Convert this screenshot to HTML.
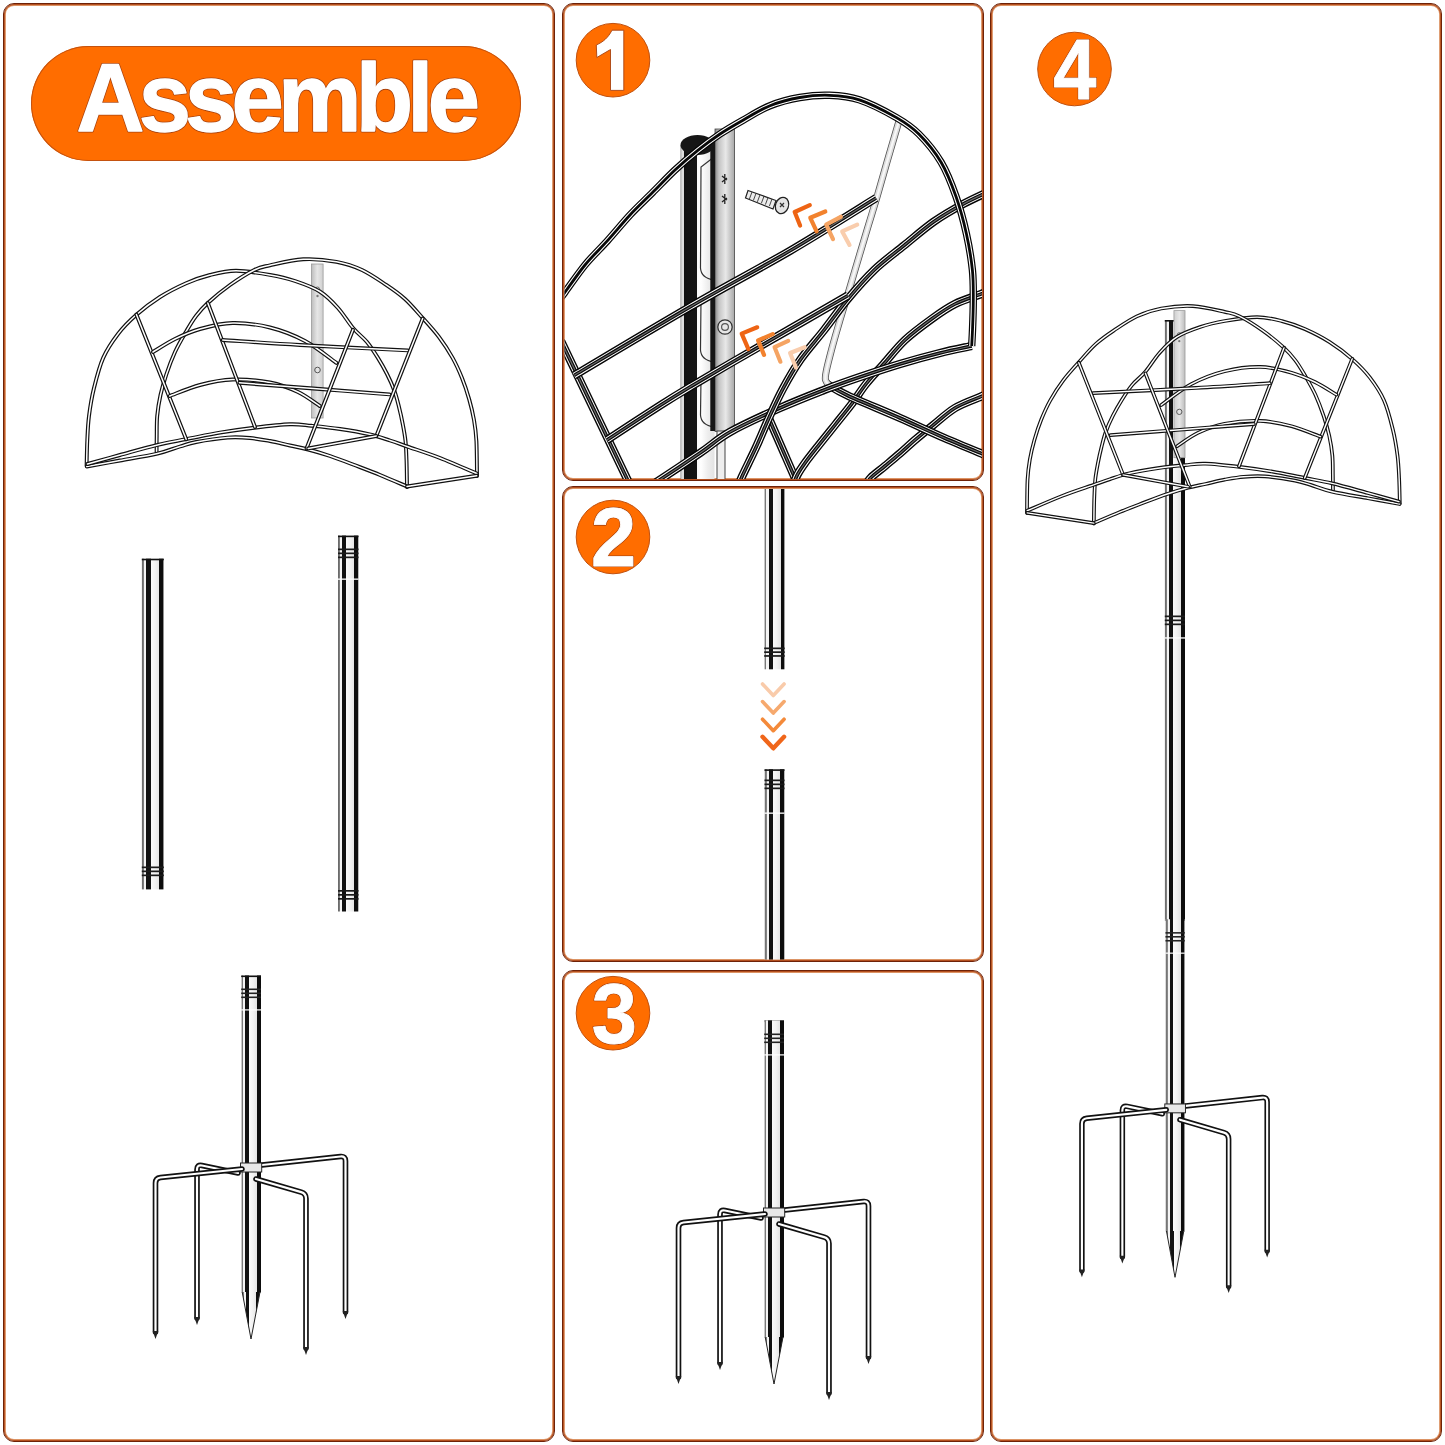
<!DOCTYPE html>
<html><head><meta charset="utf-8"><title>Assemble</title>
<style>
html,body{margin:0;padding:0;background:#fff;}
body{width:1445px;height:1445px;position:relative;overflow:hidden;font-family:"Liberation Sans",sans-serif;}
.panel{position:absolute;box-sizing:border-box;border:1.4px solid #6e2208;border-radius:11px;background:#fff;box-shadow:inset 0 0 0 0.9px #b5501f, inset 0 0 0 1.9px #dc9465;}
.pill{position:absolute;left:30.5px;top:45.6px;width:490px;height:115.7px;border-radius:58px;background:#FF6D00;box-shadow:0 0 0 1px #c4520f inset;}
svg{position:absolute;left:0;top:0;}
</style></head><body>

<div class="panel" style="left:2.9px;top:2.9px;width:552.6px;height:1439.1px"></div>
<div class="panel" style="left:562px;top:2.9px;width:422.4px;height:478.6px"></div>
<div class="panel" style="left:562px;top:486px;width:422.4px;height:475.6px"></div>
<div class="panel" style="left:562px;top:969.9px;width:422.4px;height:472.1px"></div>
<div class="panel" style="left:989.8px;top:2.9px;width:452.2px;height:1439.1px"></div>
<div class="pill"></div>
<svg width="1445" height="1445" viewBox="0 0 1445 1445">
<defs>
<linearGradient id="pole" x1="0" x2="1" y1="0" y2="0">
<stop offset="0" stop-color="#bbb"/><stop offset="0.02" stop-color="#bbb"/>
<stop offset="0.02" stop-color="#6a6a6a"/><stop offset="0.11" stop-color="#8a8a8a"/>
<stop offset="0.11" stop-color="#f4f4f4"/><stop offset="0.21" stop-color="#f4f4f4"/>
<stop offset="0.21" stop-color="#111"/><stop offset="0.41" stop-color="#111"/>
<stop offset="0.41" stop-color="#fafafa"/><stop offset="0.6" stop-color="#f2f2f2"/><stop offset="0.8" stop-color="#e4e4e4"/>
<stop offset="0.8" stop-color="#0d0d0d"/><stop offset="0.98" stop-color="#0d0d0d"/><stop offset="0.98" stop-color="#777"/><stop offset="1" stop-color="#777"/>
</linearGradient>
<linearGradient id="plate" x1="0" x2="1" y1="0" y2="0">
<stop offset="0" stop-color="#bdbdbd"/><stop offset="0.5" stop-color="#e6e6e6"/><stop offset="1" stop-color="#cfcfcf"/>
</linearGradient>
<linearGradient id="plate2" x1="0" x2="1" y1="0" y2="0">
<stop offset="0" stop-color="#8a8a8a"/><stop offset="0.2" stop-color="#c4c4c4"/><stop offset="0.55" stop-color="#e8e8e8"/><stop offset="1" stop-color="#a8a8a8"/>
</linearGradient>
<linearGradient id="pole1" x1="0" x2="1" y1="0" y2="0">
<stop offset="0" stop-color="#888"/><stop offset="0.04" stop-color="#ddd"/><stop offset="0.09" stop-color="#ddd"/>
<stop offset="0.09" stop-color="#111"/><stop offset="0.5" stop-color="#151515"/>
<stop offset="0.5" stop-color="#fafafa"/><stop offset="0.6" stop-color="#fff"/><stop offset="0.8" stop-color="#eee"/><stop offset="1" stop-color="#e2e2e2"/>
</linearGradient>
</defs>
<g id="hangerA"><rect x="311.5" y="264" width="11.6" height="154" fill="url(#plate)" stroke="#9a9a9a" stroke-width="0.8"/><circle cx="317.5" cy="289" r="2" fill="none" stroke="#666" stroke-width="0.9"/><circle cx="317.5" cy="296" r="1.2" fill="#777"/><circle cx="317.5" cy="370" r="2.8" fill="none" stroke="#555" stroke-width="1"/><path d="M86.6,465.8C86.7,461.5 86.9,448.3 87.3,440C87.7,431.7 87.9,424.7 89,416C90.1,407.3 91.6,397.7 94,388C96.4,378.3 99.2,366.9 103.2,357.9C107.2,348.9 112.5,341.2 118,334C123.5,326.8 129.4,321 136.4,314.8C143.4,308.6 151.7,302.3 160,297C168.3,291.7 177.9,286.9 186.2,283.2C194.5,279.5 201.7,277.1 210,275C218.3,272.9 226,270.8 236,270.8C246,270.8 260.2,273.2 270,274.9C279.8,276.6 286.7,278.2 295,281C303.3,283.8 312.6,287 319.8,291.5C327,296 332.5,301.9 338,308C343.5,314.1 348.2,322.3 353,328C357.8,333.7 362.9,337 367,342C371.1,347 374.6,352.6 377.9,357.9C381.2,363.2 384.2,368.5 387,374C389.8,379.5 392.5,385.6 394.5,391.1C396.5,396.6 397.6,401.5 399,407C400.4,412.5 401.7,418.6 402.8,424.3C403.9,430 404.9,435.1 405.5,441C406.1,446.9 406.2,452.3 406.5,460C406.8,467.7 406.9,482.5 407,487" fill="none" stroke="#111" stroke-width="3.9" stroke-linecap="round" stroke-linejoin="round"/><path d="M86.6,465.8C86.7,461.5 86.9,448.3 87.3,440C87.7,431.7 87.9,424.7 89,416C90.1,407.3 91.6,397.7 94,388C96.4,378.3 99.2,366.9 103.2,357.9C107.2,348.9 112.5,341.2 118,334C123.5,326.8 129.4,321 136.4,314.8C143.4,308.6 151.7,302.3 160,297C168.3,291.7 177.9,286.9 186.2,283.2C194.5,279.5 201.7,277.1 210,275C218.3,272.9 226,270.8 236,270.8C246,270.8 260.2,273.2 270,274.9C279.8,276.6 286.7,278.2 295,281C303.3,283.8 312.6,287 319.8,291.5C327,296 332.5,301.9 338,308C343.5,314.1 348.2,322.3 353,328C357.8,333.7 362.9,337 367,342C371.1,347 374.6,352.6 377.9,357.9C381.2,363.2 384.2,368.5 387,374C389.8,379.5 392.5,385.6 394.5,391.1C396.5,396.6 397.6,401.5 399,407C400.4,412.5 401.7,418.6 402.8,424.3C403.9,430 404.9,435.1 405.5,441C406.1,446.9 406.2,452.3 406.5,460C406.8,467.7 406.9,482.5 407,487" fill="none" stroke="#fff" stroke-width="1.5" stroke-linecap="round" stroke-linejoin="round"/><path d="M156.6,452C156.6,449.3 156.6,442 156.7,436C156.8,430 156.6,422.8 157.2,416C157.8,409.2 159,401.9 160.5,395C162,388.1 163.9,381.7 166.3,374.5C168.7,367.3 171.7,359.2 175,352C178.3,344.8 182.7,337.4 186.2,331.4C189.7,325.4 192.4,320.7 196,316C199.6,311.3 202.1,308.2 207.8,303C213.5,297.8 222.2,290.5 230,285C237.8,279.5 247.6,273.3 254.3,270C261,266.7 261.9,267.1 270,265.3C278.1,263.5 292.1,259.9 303.2,259.3C314.3,258.7 326.6,260 336.4,261.8C346.2,263.6 353.7,266.1 362,270C370.3,273.9 379,280.1 386.2,284.9C393.4,289.7 398.9,293.5 405,299C411.1,304.5 417,311.7 422.7,318C428.4,324.3 434,330.4 439,337C444,343.6 448.8,351.1 452.6,357.9C456.4,364.7 459.2,371.1 462,378C464.8,384.9 467.2,392.4 469.2,399.4C471.2,406.4 472.8,413.1 474,420C475.2,426.9 475.9,431.7 476.4,441C476.9,450.3 476.9,470.2 477,476" fill="none" stroke="#111" stroke-width="3.9" stroke-linecap="round" stroke-linejoin="round"/><path d="M156.6,452C156.6,449.3 156.6,442 156.7,436C156.8,430 156.6,422.8 157.2,416C157.8,409.2 159,401.9 160.5,395C162,388.1 163.9,381.7 166.3,374.5C168.7,367.3 171.7,359.2 175,352C178.3,344.8 182.7,337.4 186.2,331.4C189.7,325.4 192.4,320.7 196,316C199.6,311.3 202.1,308.2 207.8,303C213.5,297.8 222.2,290.5 230,285C237.8,279.5 247.6,273.3 254.3,270C261,266.7 261.9,267.1 270,265.3C278.1,263.5 292.1,259.9 303.2,259.3C314.3,258.7 326.6,260 336.4,261.8C346.2,263.6 353.7,266.1 362,270C370.3,273.9 379,280.1 386.2,284.9C393.4,289.7 398.9,293.5 405,299C411.1,304.5 417,311.7 422.7,318C428.4,324.3 434,330.4 439,337C444,343.6 448.8,351.1 452.6,357.9C456.4,364.7 459.2,371.1 462,378C464.8,384.9 467.2,392.4 469.2,399.4C471.2,406.4 472.8,413.1 474,420C475.2,426.9 475.9,431.7 476.4,441C476.9,450.3 476.9,470.2 477,476" fill="none" stroke="#fff" stroke-width="1.5" stroke-linecap="round" stroke-linejoin="round"/><path d="M86.8,466.5C92.3,465.5 108.2,462.6 120,460.5C131.8,458.4 147.5,455.9 157.5,453.6C167.5,451.3 173.5,448.4 180,446.5C186.5,444.6 188.4,443.5 196.3,442C204.2,440.5 218.8,438.3 227.7,437.6C236.6,436.9 242.9,437.4 250,438C257.1,438.6 263.3,439.8 270,441C276.7,442.2 283.6,444.1 290,445.5C296.4,446.9 301.5,447.8 308.2,449.5C314.9,451.2 322.5,453.5 330,456C337.5,458.5 344.7,461.3 353,464.5C361.3,467.7 371,471.3 380,475C389,478.7 402.5,484.6 407,486.5" fill="none" stroke="#111" stroke-width="3.9" stroke-linecap="round" stroke-linejoin="round"/><path d="M86.8,466.5C92.3,465.5 108.2,462.6 120,460.5C131.8,458.4 147.5,455.9 157.5,453.6C167.5,451.3 173.5,448.4 180,446.5C186.5,444.6 188.4,443.5 196.3,442C204.2,440.5 218.8,438.3 227.7,437.6C236.6,436.9 242.9,437.4 250,438C257.1,438.6 263.3,439.8 270,441C276.7,442.2 283.6,444.1 290,445.5C296.4,446.9 301.5,447.8 308.2,449.5C314.9,451.2 322.5,453.5 330,456C337.5,458.5 344.7,461.3 353,464.5C361.3,467.7 371,471.3 380,475C389,478.7 402.5,484.6 407,486.5" fill="none" stroke="#fff" stroke-width="1.5" stroke-linecap="round" stroke-linejoin="round"/><path d="M87.5,464C92.9,462.5 108.3,458.2 120,455C131.7,451.8 146.4,447.5 157.5,444.9C168.6,442.2 176.2,441.2 186.6,439.1C197,437.1 208.7,434.5 220,432.6C231.3,430.7 242.6,429.1 254.3,427.7C266,426.3 280.5,424.6 290,424.3C299.5,424 303.2,425 311.5,425.8C319.8,426.6 330.3,427.6 340,429C349.7,430.4 361.3,432.4 369.6,434.3C377.9,436.2 383.6,438.4 390,440.5C396.4,442.6 399.5,443.8 407.8,446.7C416.1,449.6 428.5,453.5 440,458C451.5,462.5 470.6,470.9 476.7,473.5" fill="none" stroke="#111" stroke-width="3.9" stroke-linecap="round" stroke-linejoin="round"/><path d="M87.5,464C92.9,462.5 108.3,458.2 120,455C131.7,451.8 146.4,447.5 157.5,444.9C168.6,442.2 176.2,441.2 186.6,439.1C197,437.1 208.7,434.5 220,432.6C231.3,430.7 242.6,429.1 254.3,427.7C266,426.3 280.5,424.6 290,424.3C299.5,424 303.2,425 311.5,425.8C319.8,426.6 330.3,427.6 340,429C349.7,430.4 361.3,432.4 369.6,434.3C377.9,436.2 383.6,438.4 390,440.5C396.4,442.6 399.5,443.8 407.8,446.7C416.1,449.6 428.5,453.5 440,458C451.5,462.5 470.6,470.9 476.7,473.5" fill="none" stroke="#fff" stroke-width="1.5" stroke-linecap="round" stroke-linejoin="round"/><path d="M407,486.5L476.7,475.8" fill="none" stroke="#111" stroke-width="3.9" stroke-linecap="round" stroke-linejoin="round"/><path d="M407,486.5L476.7,475.8" fill="none" stroke="#fff" stroke-width="1.5" stroke-linecap="round" stroke-linejoin="round"/><path d="M136.4,314.5L186.2,439.3" fill="none" stroke="#111" stroke-width="3.9" stroke-linecap="round" stroke-linejoin="round"/><path d="M136.4,314.5L186.2,439.3" fill="none" stroke="#fff" stroke-width="1.5" stroke-linecap="round" stroke-linejoin="round"/><path d="M153,352C156.7,349.8 167.2,342.8 175,339C182.8,335.2 190.4,331.7 200,329C209.6,326.3 221,323.2 232.7,323C244.4,322.8 257.9,324.5 270,327.5C282.1,330.5 293.9,335.1 305,341C316.1,346.9 331.2,359.2 336.4,362.9" fill="none" stroke="#111" stroke-width="3.9" stroke-linecap="round" stroke-linejoin="round"/><path d="M153,352C156.7,349.8 167.2,342.8 175,339C182.8,335.2 190.4,331.7 200,329C209.6,326.3 221,323.2 232.7,323C244.4,322.8 257.9,324.5 270,327.5C282.1,330.5 293.9,335.1 305,341C316.1,346.9 331.2,359.2 336.4,362.9" fill="none" stroke="#fff" stroke-width="1.5" stroke-linecap="round" stroke-linejoin="round"/><path d="M169.6,396C174.7,394.2 189.5,387.8 200,385C210.5,382.2 221,379.9 232.7,379.5C244.4,379.1 259.1,380.4 270,382.5C280.9,384.6 289.7,388.1 298,392C306.3,395.9 316.2,403.7 319.8,406" fill="none" stroke="#111" stroke-width="3.9" stroke-linecap="round" stroke-linejoin="round"/><path d="M169.6,396C174.7,394.2 189.5,387.8 200,385C210.5,382.2 221,379.9 232.7,379.5C244.4,379.1 259.1,380.4 270,382.5C280.9,384.6 289.7,388.1 298,392C306.3,395.9 316.2,403.7 319.8,406" fill="none" stroke="#fff" stroke-width="1.5" stroke-linecap="round" stroke-linejoin="round"/><path d="M207.8,303L255,427" fill="none" stroke="#111" stroke-width="3.9" stroke-linecap="round" stroke-linejoin="round"/><path d="M207.8,303L255,427" fill="none" stroke="#fff" stroke-width="1.5" stroke-linecap="round" stroke-linejoin="round"/><path d="M222.7,340C235.6,340.8 269.1,343.3 300,345C330.9,346.7 389.8,349.5 407.8,350.4" fill="none" stroke="#111" stroke-width="3.9" stroke-linecap="round" stroke-linejoin="round"/><path d="M222.7,340C235.6,340.8 269.1,343.3 300,345C330.9,346.7 389.8,349.5 407.8,350.4" fill="none" stroke="#fff" stroke-width="1.5" stroke-linecap="round" stroke-linejoin="round"/><path d="M239.4,382.8C252.8,383.8 295,387.1 320,389C345,390.9 377.9,393.5 389.5,394.4" fill="none" stroke="#111" stroke-width="3.9" stroke-linecap="round" stroke-linejoin="round"/><path d="M239.4,382.8C252.8,383.8 295,387.1 320,389C345,390.9 377.9,393.5 389.5,394.4" fill="none" stroke="#fff" stroke-width="1.5" stroke-linecap="round" stroke-linejoin="round"/><path d="M353,329.7L306.5,448.5" fill="none" stroke="#111" stroke-width="3.9" stroke-linecap="round" stroke-linejoin="round"/><path d="M353,329.7L306.5,448.5" fill="none" stroke="#fff" stroke-width="1.5" stroke-linecap="round" stroke-linejoin="round"/><path d="M422.7,318.5L376.3,436" fill="none" stroke="#111" stroke-width="3.9" stroke-linecap="round" stroke-linejoin="round"/><path d="M422.7,318.5L376.3,436" fill="none" stroke="#fff" stroke-width="1.5" stroke-linecap="round" stroke-linejoin="round"/><path d="M308.2,448.4L376.3,436" fill="none" stroke="#111" stroke-width="3.9" stroke-linecap="round" stroke-linejoin="round"/><path d="M308.2,448.4L376.3,436" fill="none" stroke="#fff" stroke-width="1.5" stroke-linecap="round" stroke-linejoin="round"/></g>
<rect x="141.8" y="558.7" width="22" height="330.7" fill="url(#pole)"/><rect x="141.8" y="558.7" width="22" height="1.6" fill="#111"/><rect x="141.8" y="866.5" width="22" height="1.7" fill="#1a1a1a"/><rect x="141.8" y="870.5" width="22" height="1.7" fill="#1a1a1a"/><rect x="141.8" y="874.5" width="22" height="1.7" fill="#1a1a1a"/>
<rect x="338" y="535.6" width="20.5" height="375.9" fill="url(#pole)"/><rect x="338" y="535.6" width="20.5" height="1.6" fill="#111"/><rect x="338" y="548.5" width="20.5" height="1.7" fill="#1a1a1a"/><rect x="338" y="552.5" width="20.5" height="1.7" fill="#1a1a1a"/><rect x="338" y="556.5" width="20.5" height="1.7" fill="#1a1a1a"/><rect x="338" y="890" width="20.5" height="1.7" fill="#1a1a1a"/><rect x="338" y="894" width="20.5" height="1.7" fill="#1a1a1a"/><rect x="338" y="898" width="20.5" height="1.7" fill="#1a1a1a"/><rect x="338" y="578.5" width="20.5" height="1.3" fill="#fff"/>
<g id="stakeA"><path d="M238,1173L201.9,1165.5Q197,1164.5 197,1169.5L197,1318" fill="none" stroke="#111" stroke-width="5.6" stroke-linecap="round" stroke-linejoin="round"/><path d="M238,1173L201.9,1165.5Q197,1164.5 197,1169.5L197,1318" fill="none" stroke="#fff" stroke-width="2.2" stroke-linecap="round" stroke-linejoin="round"/><path d="M262,1165L340.5,1156.5Q345.5,1156 345.5,1161L345.5,1312" fill="none" stroke="#111" stroke-width="5.6" stroke-linecap="round" stroke-linejoin="round"/><path d="M262,1165L340.5,1156.5Q345.5,1156 345.5,1161L345.5,1312" fill="none" stroke="#fff" stroke-width="2.2" stroke-linecap="round" stroke-linejoin="round"/><rect x="241.2" y="975.5" width="19.8" height="317" fill="url(#pole)"/><polygon points="242.2,1292 260,1292 251,1339" fill="url(#pole)"/><path d="M242.2,1292L251,1339L260,1292" fill="none" stroke="#222" stroke-width="1"/><rect x="241.2" y="988.5" width="19.8" height="1.6" fill="#222"/><rect x="241.2" y="992.5" width="19.8" height="1.6" fill="#222"/><rect x="241.2" y="996.5" width="19.8" height="1.6" fill="#222"/><rect x="241.2" y="1009.3" width="19.8" height="1.2" fill="#fff"/><rect x="240.5" y="1163" width="21.2" height="9" fill="#e8e8e8" stroke="#222" stroke-width="1"/><path d="M242,1169L160.5,1177.5Q155.5,1178 155.5,1183L155.5,1332" fill="none" stroke="#111" stroke-width="5.6" stroke-linecap="round" stroke-linejoin="round"/><path d="M242,1169L160.5,1177.5Q155.5,1178 155.5,1183L155.5,1332" fill="none" stroke="#fff" stroke-width="2.2" stroke-linecap="round" stroke-linejoin="round"/><path d="M256,1179L301.2,1192.1Q306,1193.5 306,1198.5L306,1348" fill="none" stroke="#111" stroke-width="5.6" stroke-linecap="round" stroke-linejoin="round"/><path d="M256,1179L301.2,1192.1Q306,1193.5 306,1198.5L306,1348" fill="none" stroke="#fff" stroke-width="2.2" stroke-linecap="round" stroke-linejoin="round"/><polygon points="194.2,1317 199.8,1317 197,1325" fill="#222"/><polygon points="342.7,1311 348.3,1311 345.5,1319" fill="#222"/><polygon points="152.7,1331 158.3,1331 155.5,1339" fill="#222"/><polygon points="303.2,1347 308.8,1347 306,1355" fill="#222"/></g>
<rect x="241.2" y="975.5" width="19.8" height="1.6" fill="#111"/>
<rect x="764.2" y="1020.5" width="19.8" height="1.6" fill="#111"/>
<use href="#stakeA" transform="translate(523,45)"/>
<rect x="1164.8" y="320" width="20.2" height="601" fill="url(#pole)"/><rect x="1164.8" y="320" width="20.2" height="1.6" fill="#111"/><rect x="1164.8" y="615.5" width="20.2" height="1.7" fill="#1a1a1a"/><rect x="1164.8" y="619.5" width="20.2" height="1.7" fill="#1a1a1a"/><rect x="1164.8" y="623.5" width="20.2" height="1.7" fill="#1a1a1a"/><rect x="1164.8" y="637.3" width="20.2" height="1.3" fill="#fff"/>
<use href="#stakeA" transform="matrix(0.975,0,0,0.985,930.3,-41.6)"/>
<use href="#hangerA" transform="translate(1482.5,58.5) scale(-0.955,0.955)"/>
<rect x="764.2" y="489" width="20.5" height="180.3" fill="url(#pole)"/><rect x="764.2" y="647.5" width="20.5" height="1.7" fill="#1a1a1a"/><rect x="764.2" y="651.3" width="20.5" height="1.7" fill="#1a1a1a"/><rect x="764.2" y="655.1" width="20.5" height="1.7" fill="#1a1a1a"/>
<rect x="764.5" y="769.3" width="20" height="190.2" fill="url(#pole)"/><rect x="764.5" y="769.3" width="20" height="1.6" fill="#111"/><rect x="764.5" y="779.5" width="20" height="1.7" fill="#1a1a1a"/><rect x="764.5" y="783.5" width="20" height="1.7" fill="#1a1a1a"/><rect x="764.5" y="787.5" width="20" height="1.7" fill="#1a1a1a"/><rect x="764.5" y="812.5" width="20" height="1.3" fill="#fff"/>
<path d="M762.5,684L773.3,695.5L784.1,684" fill="none" stroke="#F9CBAA" stroke-width="3.6" stroke-linecap="round" stroke-linejoin="round"/>
<path d="M762.5,701.6L773.3,713.1L784.1,701.6" fill="none" stroke="#F6A96E" stroke-width="3.6" stroke-linecap="round" stroke-linejoin="round"/>
<path d="M762.5,719.2L773.3,730.7L784.1,719.2" fill="none" stroke="#F48A3A" stroke-width="3.6" stroke-linecap="round" stroke-linejoin="round"/>
<path d="M762.5,736.8L773.3,748.3L784.1,736.8" fill="none" stroke="#F0661A" stroke-width="4.4" stroke-linecap="round" stroke-linejoin="round"/>
<clipPath id="c1"><rect x="564.5" y="5.5" width="417.5" height="473.5" rx="9"/></clipPath>
<g clip-path="url(#c1)">
<rect x="680.5" y="145" width="34" height="340" fill="url(#pole1)"/>
<ellipse cx="697.5" cy="145" rx="17" ry="10" fill="#161616"/>
<path d="M714,157 L701,167 L700.5,268 Q701,278 714,280" fill="none" stroke="#333" stroke-width="1.2"/>
<path d="M714,290 L701,300 L700.5,350 Q701,360 714,362" fill="none" stroke="#333" stroke-width="1.2"/>
<path d="M714,369 L701,379 L700.5,415 Q701,425 714,427" fill="none" stroke="#333" stroke-width="1.2"/>
<rect x="715" y="129" width="19.5" height="302.5" fill="url(#plate2)" stroke="#444" stroke-width="0.8"/>
<rect x="710.3" y="140" width="4.7" height="291" fill="#161616"/>
<rect x="717" y="431" width="8" height="60" fill="#eee" stroke="#444" stroke-width="1"/>
<path d="M722,176 l5,4 M722,182 l5,-4 M724.8,174 v10 M722,196 l5,4 M722,202 l5,-4 M724.8,194 v10" stroke="#222" stroke-width="1.3"/>
<circle cx="725" cy="327" r="7.2" fill="#e6e6e6" stroke="#333" stroke-width="1.3"/><circle cx="725" cy="327" r="3.4" fill="none" stroke="#555" stroke-width="1.2"/>
<path d="M561,341L630,485" fill="none" stroke="#050505" stroke-width="8.4" stroke-linecap="butt" stroke-linejoin="round"/><path d="M561,341L630,485" fill="none" stroke="#fff" stroke-width="5.6" stroke-linecap="butt" stroke-linejoin="round"/><path d="M561,341L630,485" fill="none" stroke="#080808" stroke-width="3.6" stroke-linecap="butt" stroke-linejoin="round"/><path d="M561,341L630,485" fill="none" stroke="#6a6a6a" stroke-width="1.2" stroke-linecap="butt" stroke-linejoin="round"/>
<path d="M768.8,418.2L798,485" fill="none" stroke="#050505" stroke-width="8.4" stroke-linecap="butt" stroke-linejoin="round"/><path d="M768.8,418.2L798,485" fill="none" stroke="#fff" stroke-width="5.6" stroke-linecap="butt" stroke-linejoin="round"/><path d="M768.8,418.2L798,485" fill="none" stroke="#080808" stroke-width="3.6" stroke-linecap="butt" stroke-linejoin="round"/><path d="M768.8,418.2L798,485" fill="none" stroke="#6a6a6a" stroke-width="1.2" stroke-linecap="butt" stroke-linejoin="round"/>
<path d="M990,393C988.6,393.6 987.2,393.9 981.4,396.4C975.6,398.9 963.1,403.1 955,408C946.9,412.9 939.3,420.3 932.6,425.6C925.9,430.9 920.4,435.4 915,440C909.6,444.6 905.1,449 900.1,453.3C895.1,457.6 889.9,461.9 885,466C880.1,470.1 874,474.5 870.8,477.7C867.6,480.9 866.8,483.8 866,485" fill="none" stroke="#050505" stroke-width="8.4" stroke-linecap="butt" stroke-linejoin="round"/><path d="M990,393C988.6,393.6 987.2,393.9 981.4,396.4C975.6,398.9 963.1,403.1 955,408C946.9,412.9 939.3,420.3 932.6,425.6C925.9,430.9 920.4,435.4 915,440C909.6,444.6 905.1,449 900.1,453.3C895.1,457.6 889.9,461.9 885,466C880.1,470.1 874,474.5 870.8,477.7C867.6,480.9 866.8,483.8 866,485" fill="none" stroke="#fff" stroke-width="5.6" stroke-linecap="butt" stroke-linejoin="round"/><path d="M990,393C988.6,393.6 987.2,393.9 981.4,396.4C975.6,398.9 963.1,403.1 955,408C946.9,412.9 939.3,420.3 932.6,425.6C925.9,430.9 920.4,435.4 915,440C909.6,444.6 905.1,449 900.1,453.3C895.1,457.6 889.9,461.9 885,466C880.1,470.1 874,474.5 870.8,477.7C867.6,480.9 866.8,483.8 866,485" fill="none" stroke="#080808" stroke-width="3.6" stroke-linecap="butt" stroke-linejoin="round"/><path d="M990,393C988.6,393.6 987.2,393.9 981.4,396.4C975.6,398.9 963.1,403.1 955,408C946.9,412.9 939.3,420.3 932.6,425.6C925.9,430.9 920.4,435.4 915,440C909.6,444.6 905.1,449 900.1,453.3C895.1,457.6 889.9,461.9 885,466C880.1,470.1 874,474.5 870.8,477.7C867.6,480.9 866.8,483.8 866,485" fill="none" stroke="#6a6a6a" stroke-width="1.2" stroke-linecap="butt" stroke-linejoin="round"/>
<path d="M990,290C988.6,290.6 987.2,291.6 981.4,293.9C975.6,296.2 963.1,299.9 955,304C946.9,308.1 940.9,312.3 932.6,318.3C924.3,324.3 913.1,332.4 905,340C896.9,347.6 890.3,356.5 883.8,363.8C877.3,371.1 871.4,377.2 866,384C860.6,390.8 856.5,397.7 851.3,404.5C846.1,411.3 840.4,418.2 835,425C829.6,431.8 823.8,438.9 818.8,445.2C813.8,451.5 808.5,458.1 805,463C801.5,467.9 799.6,470.7 797.6,474.4C795.6,478.1 793.8,483.2 793,485" fill="none" stroke="#050505" stroke-width="8.4" stroke-linecap="butt" stroke-linejoin="round"/><path d="M990,290C988.6,290.6 987.2,291.6 981.4,293.9C975.6,296.2 963.1,299.9 955,304C946.9,308.1 940.9,312.3 932.6,318.3C924.3,324.3 913.1,332.4 905,340C896.9,347.6 890.3,356.5 883.8,363.8C877.3,371.1 871.4,377.2 866,384C860.6,390.8 856.5,397.7 851.3,404.5C846.1,411.3 840.4,418.2 835,425C829.6,431.8 823.8,438.9 818.8,445.2C813.8,451.5 808.5,458.1 805,463C801.5,467.9 799.6,470.7 797.6,474.4C795.6,478.1 793.8,483.2 793,485" fill="none" stroke="#fff" stroke-width="5.6" stroke-linecap="butt" stroke-linejoin="round"/><path d="M990,290C988.6,290.6 987.2,291.6 981.4,293.9C975.6,296.2 963.1,299.9 955,304C946.9,308.1 940.9,312.3 932.6,318.3C924.3,324.3 913.1,332.4 905,340C896.9,347.6 890.3,356.5 883.8,363.8C877.3,371.1 871.4,377.2 866,384C860.6,390.8 856.5,397.7 851.3,404.5C846.1,411.3 840.4,418.2 835,425C829.6,431.8 823.8,438.9 818.8,445.2C813.8,451.5 808.5,458.1 805,463C801.5,467.9 799.6,470.7 797.6,474.4C795.6,478.1 793.8,483.2 793,485" fill="none" stroke="#080808" stroke-width="3.6" stroke-linecap="butt" stroke-linejoin="round"/><path d="M990,290C988.6,290.6 987.2,291.6 981.4,293.9C975.6,296.2 963.1,299.9 955,304C946.9,308.1 940.9,312.3 932.6,318.3C924.3,324.3 913.1,332.4 905,340C896.9,347.6 890.3,356.5 883.8,363.8C877.3,371.1 871.4,377.2 866,384C860.6,390.8 856.5,397.7 851.3,404.5C846.1,411.3 840.4,418.2 835,425C829.6,431.8 823.8,438.9 818.8,445.2C813.8,451.5 808.5,458.1 805,463C801.5,467.9 799.6,470.7 797.6,474.4C795.6,478.1 793.8,483.2 793,485" fill="none" stroke="#6a6a6a" stroke-width="1.2" stroke-linecap="butt" stroke-linejoin="round"/>
<path d="M826,383.5C829.6,385.5 835.3,389.8 847.6,395.5C859.9,401.2 883.9,410.9 900,418C916.1,425.1 929.4,431.5 944.4,438C959.4,444.5 982.4,453.8 990,457" fill="none" stroke="#050505" stroke-width="8.4" stroke-linecap="butt" stroke-linejoin="round"/><path d="M826,383.5C829.6,385.5 835.3,389.8 847.6,395.5C859.9,401.2 883.9,410.9 900,418C916.1,425.1 929.4,431.5 944.4,438C959.4,444.5 982.4,453.8 990,457" fill="none" stroke="#fff" stroke-width="5.6" stroke-linecap="butt" stroke-linejoin="round"/><path d="M826,383.5C829.6,385.5 835.3,389.8 847.6,395.5C859.9,401.2 883.9,410.9 900,418C916.1,425.1 929.4,431.5 944.4,438C959.4,444.5 982.4,453.8 990,457" fill="none" stroke="#080808" stroke-width="3.6" stroke-linecap="butt" stroke-linejoin="round"/><path d="M826,383.5C829.6,385.5 835.3,389.8 847.6,395.5C859.9,401.2 883.9,410.9 900,418C916.1,425.1 929.4,431.5 944.4,438C959.4,444.5 982.4,453.8 990,457" fill="none" stroke="#6a6a6a" stroke-width="1.2" stroke-linecap="butt" stroke-linejoin="round"/>
<path d="M899,121C897,127.8 890.7,149.3 887,162C883.3,174.7 880.1,186.5 877,197C873.9,207.5 871.4,215.3 868.5,225C865.6,234.7 862.6,244.7 859.5,255C856.4,265.3 853.2,276.2 850,287C846.8,297.8 843,309.8 840,320C837,330.2 834.2,339.7 832,348C829.8,356.3 827.6,364.7 826.5,370C825.4,375.3 824.9,377.3 825.5,380C826.1,382.7 829.2,385 830,386" fill="none" stroke="#555" stroke-width="7" stroke-linecap="butt" stroke-linejoin="round"/><path d="M899,121C897,127.8 890.7,149.3 887,162C883.3,174.7 880.1,186.5 877,197C873.9,207.5 871.4,215.3 868.5,225C865.6,234.7 862.6,244.7 859.5,255C856.4,265.3 853.2,276.2 850,287C846.8,297.8 843,309.8 840,320C837,330.2 834.2,339.7 832,348C829.8,356.3 827.6,364.7 826.5,370C825.4,375.3 824.9,377.3 825.5,380C826.1,382.7 829.2,385 830,386" fill="none" stroke="#dcdcdc" stroke-width="5.4" stroke-linecap="butt" stroke-linejoin="round"/><path d="M899,121C897,127.8 890.7,149.3 887,162C883.3,174.7 880.1,186.5 877,197C873.9,207.5 871.4,215.3 868.5,225C865.6,234.7 862.6,244.7 859.5,255C856.4,265.3 853.2,276.2 850,287C846.8,297.8 843,309.8 840,320C837,330.2 834.2,339.7 832,348C829.8,356.3 827.6,364.7 826.5,370C825.4,375.3 824.9,377.3 825.5,380C826.1,382.7 829.2,385 830,386" fill="none" stroke="#f7f7f7" stroke-width="2.2" stroke-linecap="butt" stroke-linejoin="round"/>
<path d="M652,485C660,479.7 687,461.8 700,453C713,444.2 716.7,439.5 730,432C743.3,424.5 764.3,415 780,408C795.7,401 810.7,395.2 824,390C837.3,384.8 847.3,381.3 860,377C872.7,372.7 886.7,368 900,364C913.3,360 928,356 940,353C952,350 966.4,347.2 971.7,346" fill="none" stroke="#050505" stroke-width="8.4" stroke-linecap="butt" stroke-linejoin="round"/><path d="M652,485C660,479.7 687,461.8 700,453C713,444.2 716.7,439.5 730,432C743.3,424.5 764.3,415 780,408C795.7,401 810.7,395.2 824,390C837.3,384.8 847.3,381.3 860,377C872.7,372.7 886.7,368 900,364C913.3,360 928,356 940,353C952,350 966.4,347.2 971.7,346" fill="none" stroke="#fff" stroke-width="5.6" stroke-linecap="butt" stroke-linejoin="round"/><path d="M652,485C660,479.7 687,461.8 700,453C713,444.2 716.7,439.5 730,432C743.3,424.5 764.3,415 780,408C795.7,401 810.7,395.2 824,390C837.3,384.8 847.3,381.3 860,377C872.7,372.7 886.7,368 900,364C913.3,360 928,356 940,353C952,350 966.4,347.2 971.7,346" fill="none" stroke="#080808" stroke-width="3.6" stroke-linecap="butt" stroke-linejoin="round"/><path d="M652,485C660,479.7 687,461.8 700,453C713,444.2 716.7,439.5 730,432C743.3,424.5 764.3,415 780,408C795.7,401 810.7,395.2 824,390C837.3,384.8 847.3,381.3 860,377C872.7,372.7 886.7,368 900,364C913.3,360 928,356 940,353C952,350 966.4,347.2 971.7,346" fill="none" stroke="#6a6a6a" stroke-width="1.2" stroke-linecap="butt" stroke-linejoin="round"/>
<path d="M990,191C985.6,193.2 972.8,198.8 963.4,203.9C954,209 943.6,214.9 933.7,221.8C923.8,228.8 913.8,237.6 903.9,245.6C894,253.6 883.5,261.1 874.2,270C864.9,278.9 856.4,288.8 848,298.8C839.6,308.8 832,319.9 824.1,330C816.2,340.1 807.5,349.6 800.6,359.4C793.7,369.2 788.2,379 782.9,388.8C777.6,398.6 773.3,408.4 768.8,418.2C764.3,428 760.4,437.8 755.9,447.6C751.4,457.4 744.6,470.8 741.8,477C739,483.2 739.5,483.7 739,485" fill="none" stroke="#050505" stroke-width="8.4" stroke-linecap="butt" stroke-linejoin="round"/><path d="M990,191C985.6,193.2 972.8,198.8 963.4,203.9C954,209 943.6,214.9 933.7,221.8C923.8,228.8 913.8,237.6 903.9,245.6C894,253.6 883.5,261.1 874.2,270C864.9,278.9 856.4,288.8 848,298.8C839.6,308.8 832,319.9 824.1,330C816.2,340.1 807.5,349.6 800.6,359.4C793.7,369.2 788.2,379 782.9,388.8C777.6,398.6 773.3,408.4 768.8,418.2C764.3,428 760.4,437.8 755.9,447.6C751.4,457.4 744.6,470.8 741.8,477C739,483.2 739.5,483.7 739,485" fill="none" stroke="#fff" stroke-width="5.6" stroke-linecap="butt" stroke-linejoin="round"/><path d="M990,191C985.6,193.2 972.8,198.8 963.4,203.9C954,209 943.6,214.9 933.7,221.8C923.8,228.8 913.8,237.6 903.9,245.6C894,253.6 883.5,261.1 874.2,270C864.9,278.9 856.4,288.8 848,298.8C839.6,308.8 832,319.9 824.1,330C816.2,340.1 807.5,349.6 800.6,359.4C793.7,369.2 788.2,379 782.9,388.8C777.6,398.6 773.3,408.4 768.8,418.2C764.3,428 760.4,437.8 755.9,447.6C751.4,457.4 744.6,470.8 741.8,477C739,483.2 739.5,483.7 739,485" fill="none" stroke="#080808" stroke-width="3.6" stroke-linecap="butt" stroke-linejoin="round"/><path d="M990,191C985.6,193.2 972.8,198.8 963.4,203.9C954,209 943.6,214.9 933.7,221.8C923.8,228.8 913.8,237.6 903.9,245.6C894,253.6 883.5,261.1 874.2,270C864.9,278.9 856.4,288.8 848,298.8C839.6,308.8 832,319.9 824.1,330C816.2,340.1 807.5,349.6 800.6,359.4C793.7,369.2 788.2,379 782.9,388.8C777.6,398.6 773.3,408.4 768.8,418.2C764.3,428 760.4,437.8 755.9,447.6C751.4,457.4 744.6,470.8 741.8,477C739,483.2 739.5,483.7 739,485" fill="none" stroke="#6a6a6a" stroke-width="1.2" stroke-linecap="butt" stroke-linejoin="round"/>
<path d="M607,440C615.8,434.2 646.2,414.3 660,405.5C673.8,396.7 678.3,394 690,387C701.7,380 713.3,373.2 730,363.5C746.7,353.8 770.3,340.3 790,329C809.7,317.7 838.3,301.1 848,295.5" fill="none" stroke="#050505" stroke-width="8.4" stroke-linecap="butt" stroke-linejoin="round"/><path d="M607,440C615.8,434.2 646.2,414.3 660,405.5C673.8,396.7 678.3,394 690,387C701.7,380 713.3,373.2 730,363.5C746.7,353.8 770.3,340.3 790,329C809.7,317.7 838.3,301.1 848,295.5" fill="none" stroke="#fff" stroke-width="5.6" stroke-linecap="butt" stroke-linejoin="round"/><path d="M607,440C615.8,434.2 646.2,414.3 660,405.5C673.8,396.7 678.3,394 690,387C701.7,380 713.3,373.2 730,363.5C746.7,353.8 770.3,340.3 790,329C809.7,317.7 838.3,301.1 848,295.5" fill="none" stroke="#080808" stroke-width="3.6" stroke-linecap="butt" stroke-linejoin="round"/><path d="M607,440C615.8,434.2 646.2,414.3 660,405.5C673.8,396.7 678.3,394 690,387C701.7,380 713.3,373.2 730,363.5C746.7,353.8 770.3,340.3 790,329C809.7,317.7 838.3,301.1 848,295.5" fill="none" stroke="#6a6a6a" stroke-width="1.2" stroke-linecap="butt" stroke-linejoin="round"/>
<path d="M574,375.5C593.3,364.1 654,327.7 690,306.9C726,286.1 759,268.9 790,250.8C821,232.7 861.7,206.8 876,198" fill="none" stroke="#050505" stroke-width="8.4" stroke-linecap="butt" stroke-linejoin="round"/><path d="M574,375.5C593.3,364.1 654,327.7 690,306.9C726,286.1 759,268.9 790,250.8C821,232.7 861.7,206.8 876,198" fill="none" stroke="#fff" stroke-width="5.6" stroke-linecap="butt" stroke-linejoin="round"/><path d="M574,375.5C593.3,364.1 654,327.7 690,306.9C726,286.1 759,268.9 790,250.8C821,232.7 861.7,206.8 876,198" fill="none" stroke="#080808" stroke-width="3.6" stroke-linecap="butt" stroke-linejoin="round"/><path d="M574,375.5C593.3,364.1 654,327.7 690,306.9C726,286.1 759,268.9 790,250.8C821,232.7 861.7,206.8 876,198" fill="none" stroke="#6a6a6a" stroke-width="1.2" stroke-linecap="butt" stroke-linejoin="round"/>
<path d="M560,299C560.8,297.9 560.8,297.9 565,292.2C569.2,286.5 578,273.6 585,265C592,256.4 599.8,249.2 607.3,240.9C614.8,232.6 622.5,223.1 630,215C637.5,206.9 645,200.1 652.5,192.6C660,185.1 667.5,177 675,170C682.5,163 690.3,156.4 697.8,150.4C705.3,144.4 712.5,139 720,134C727.5,129 734.7,124.9 743,120.2C751.3,115.5 760.5,109.5 770,105.7C779.5,101.9 789.9,99.2 799.8,97.5C809.7,95.8 819.6,94.9 829.5,95.3C839.4,95.7 848.1,96.1 859.3,99.8C870.5,103.5 886.6,111.9 896.5,117.6C906.4,123.3 911.4,126.6 918.8,134C926.2,141.4 934.9,151.8 941.1,162.2C947.3,172.6 951.8,184.6 956,196.5C960.2,208.4 963.7,221.4 966.4,233.7C969.1,245.9 971.2,258.9 972.4,270C973.5,281.1 973.3,290 973.3,300C973.3,310 972.8,322.3 972.5,330C972.2,337.7 971.8,343.3 971.7,346" fill="none" stroke="#050505" stroke-width="7.4" stroke-linecap="butt" stroke-linejoin="round"/><path d="M560,299C560.8,297.9 560.8,297.9 565,292.2C569.2,286.5 578,273.6 585,265C592,256.4 599.8,249.2 607.3,240.9C614.8,232.6 622.5,223.1 630,215C637.5,206.9 645,200.1 652.5,192.6C660,185.1 667.5,177 675,170C682.5,163 690.3,156.4 697.8,150.4C705.3,144.4 712.5,139 720,134C727.5,129 734.7,124.9 743,120.2C751.3,115.5 760.5,109.5 770,105.7C779.5,101.9 789.9,99.2 799.8,97.5C809.7,95.8 819.6,94.9 829.5,95.3C839.4,95.7 848.1,96.1 859.3,99.8C870.5,103.5 886.6,111.9 896.5,117.6C906.4,123.3 911.4,126.6 918.8,134C926.2,141.4 934.9,151.8 941.1,162.2C947.3,172.6 951.8,184.6 956,196.5C960.2,208.4 963.7,221.4 966.4,233.7C969.1,245.9 971.2,258.9 972.4,270C973.5,281.1 973.3,290 973.3,300C973.3,310 972.8,322.3 972.5,330C972.2,337.7 971.8,343.3 971.7,346" fill="none" stroke="#fff" stroke-width="5.0" stroke-linecap="butt" stroke-linejoin="round"/><path d="M560,299C560.8,297.9 560.8,297.9 565,292.2C569.2,286.5 578,273.6 585,265C592,256.4 599.8,249.2 607.3,240.9C614.8,232.6 622.5,223.1 630,215C637.5,206.9 645,200.1 652.5,192.6C660,185.1 667.5,177 675,170C682.5,163 690.3,156.4 697.8,150.4C705.3,144.4 712.5,139 720,134C727.5,129 734.7,124.9 743,120.2C751.3,115.5 760.5,109.5 770,105.7C779.5,101.9 789.9,99.2 799.8,97.5C809.7,95.8 819.6,94.9 829.5,95.3C839.4,95.7 848.1,96.1 859.3,99.8C870.5,103.5 886.6,111.9 896.5,117.6C906.4,123.3 911.4,126.6 918.8,134C926.2,141.4 934.9,151.8 941.1,162.2C947.3,172.6 951.8,184.6 956,196.5C960.2,208.4 963.7,221.4 966.4,233.7C969.1,245.9 971.2,258.9 972.4,270C973.5,281.1 973.3,290 973.3,300C973.3,310 972.8,322.3 972.5,330C972.2,337.7 971.8,343.3 971.7,346" fill="none" stroke="#080808" stroke-width="2.8" stroke-linecap="butt" stroke-linejoin="round"/>
<path d="M748,190.5 L776,200.5 L773,209 L745.5,198 Z" fill="#ececec" stroke="#222" stroke-width="1.2"/>
<path d="M752,192.0 l-2.6,7" stroke="#333" stroke-width="0.9"/>
<path d="M756,193.4 l-2.6,7" stroke="#333" stroke-width="0.9"/>
<path d="M760,194.8 l-2.6,7" stroke="#333" stroke-width="0.9"/>
<path d="M764,196.2 l-2.6,7" stroke="#333" stroke-width="0.9"/>
<path d="M768,197.6 l-2.6,7" stroke="#333" stroke-width="0.9"/>
<path d="M772,199.0 l-2.6,7" stroke="#333" stroke-width="0.9"/>
<ellipse cx="782" cy="205.5" rx="6.5" ry="8.3" transform="rotate(20 782 205.5)" fill="#e4e4e4" stroke="#222" stroke-width="1.3"/>
<path d="M780,203 l4,4 M784,203 l-4,4" stroke="#333" stroke-width="1.2"/>
<path d="M809.8,205.2L794.7,212L800.1,225.5" fill="none" stroke="#EE6414" stroke-width="4.2" stroke-linecap="round" stroke-linejoin="round"/>
<path d="M825.3,211.5L810.3,217.8L816.6,231.4" fill="none" stroke="#F2822E" stroke-width="4.2" stroke-linecap="round" stroke-linejoin="round"/>
<path d="M840.8,216.8L826.2,224.6L833,239.1" fill="none" stroke="#F5A463" stroke-width="4.2" stroke-linecap="round" stroke-linejoin="round"/>
<path d="M857.2,224.6L842.2,231.4L849.5,244.9" fill="none" stroke="#F9CDAD" stroke-width="4.2" stroke-linecap="round" stroke-linejoin="round"/>
<path d="M757.2,327.3L741.7,333.6L748.4,349.1" fill="none" stroke="#EE6414" stroke-width="4.2" stroke-linecap="round" stroke-linejoin="round"/>
<path d="M772.7,334.1L758.1,340.4L764,354.9" fill="none" stroke="#F2822E" stroke-width="4.2" stroke-linecap="round" stroke-linejoin="round"/>
<path d="M788.2,340.9L774.6,347.2L780.4,361.7" fill="none" stroke="#F5A463" stroke-width="4.2" stroke-linecap="round" stroke-linejoin="round"/>
<path d="M804.7,347.2L790.1,353L795.9,367.5" fill="none" stroke="#F9CDAD" stroke-width="4.2" stroke-linecap="round" stroke-linejoin="round"/>
</g>
<text x="0" y="0" transform="translate(76.6,131.1) scale(0.94,0.955)" font-family="Liberation Sans" font-weight="bold" font-size="100" letter-spacing="-6.2" stroke="#a8420e" stroke-width="3.0" fill="#a8420e" stroke-linejoin="round">Assemble</text>
<text x="0" y="0" transform="translate(76.6,131.1) scale(0.94,0.955)" font-family="Liberation Sans" font-weight="bold" font-size="100" letter-spacing="-6.2" stroke="#fff" stroke-width="1.4" fill="#fff" stroke-linejoin="round">Assemble</text>
<circle cx="613" cy="60.2" r="36.8" fill="#FF6D00" stroke="#c0500e" stroke-width="1"/>
<circle cx="613" cy="537" r="36.8" fill="#FF6D00" stroke="#c0500e" stroke-width="1"/>
<circle cx="613" cy="1013.2" r="36.8" fill="#FF6D00" stroke="#c0500e" stroke-width="1"/>
<circle cx="1074.5" cy="69" r="36.8" fill="#FF6D00" stroke="#c0500e" stroke-width="1"/>
<path d="M612,30.2 L623.8,30.2 L623.8,90.4 L610.5,90.4 L610.5,49.5 L596.8,57.5 L596.3,45 C603,42 608,38 612,30.2 Z" fill="#fff" stroke="#a8420e" stroke-width="0.9"/>
<text x="0" y="0" transform="translate(591,566.3) scale(0.812,0.836)" font-family="Liberation Sans" font-weight="bold" font-size="100" stroke="#a8420e" stroke-width="2.6" fill="#a8420e" stroke-linejoin="round">2</text><text x="0" y="0" transform="translate(591,566.3) scale(0.812,0.836)" font-family="Liberation Sans" font-weight="bold" font-size="100" stroke="#fff" stroke-width="1.0" fill="#fff" stroke-linejoin="round">2</text>
<text x="0" y="0" transform="translate(591.8,1043.2) scale(0.812,0.845)" font-family="Liberation Sans" font-weight="bold" font-size="100" stroke="#a8420e" stroke-width="2.6" fill="#a8420e" stroke-linejoin="round">3</text><text x="0" y="0" transform="translate(591.8,1043.2) scale(0.812,0.845)" font-family="Liberation Sans" font-weight="bold" font-size="100" stroke="#fff" stroke-width="1.0" fill="#fff" stroke-linejoin="round">3</text>
<text x="0" y="0" transform="translate(1053.2,98.7) scale(0.775,0.857)" font-family="Liberation Sans" font-weight="bold" font-size="100" stroke="#a8420e" stroke-width="2.6" fill="#a8420e" stroke-linejoin="round">4</text><text x="0" y="0" transform="translate(1053.2,98.7) scale(0.775,0.857)" font-family="Liberation Sans" font-weight="bold" font-size="100" stroke="#fff" stroke-width="1.0" fill="#fff" stroke-linejoin="round">4</text>
</svg>
</body></html>
